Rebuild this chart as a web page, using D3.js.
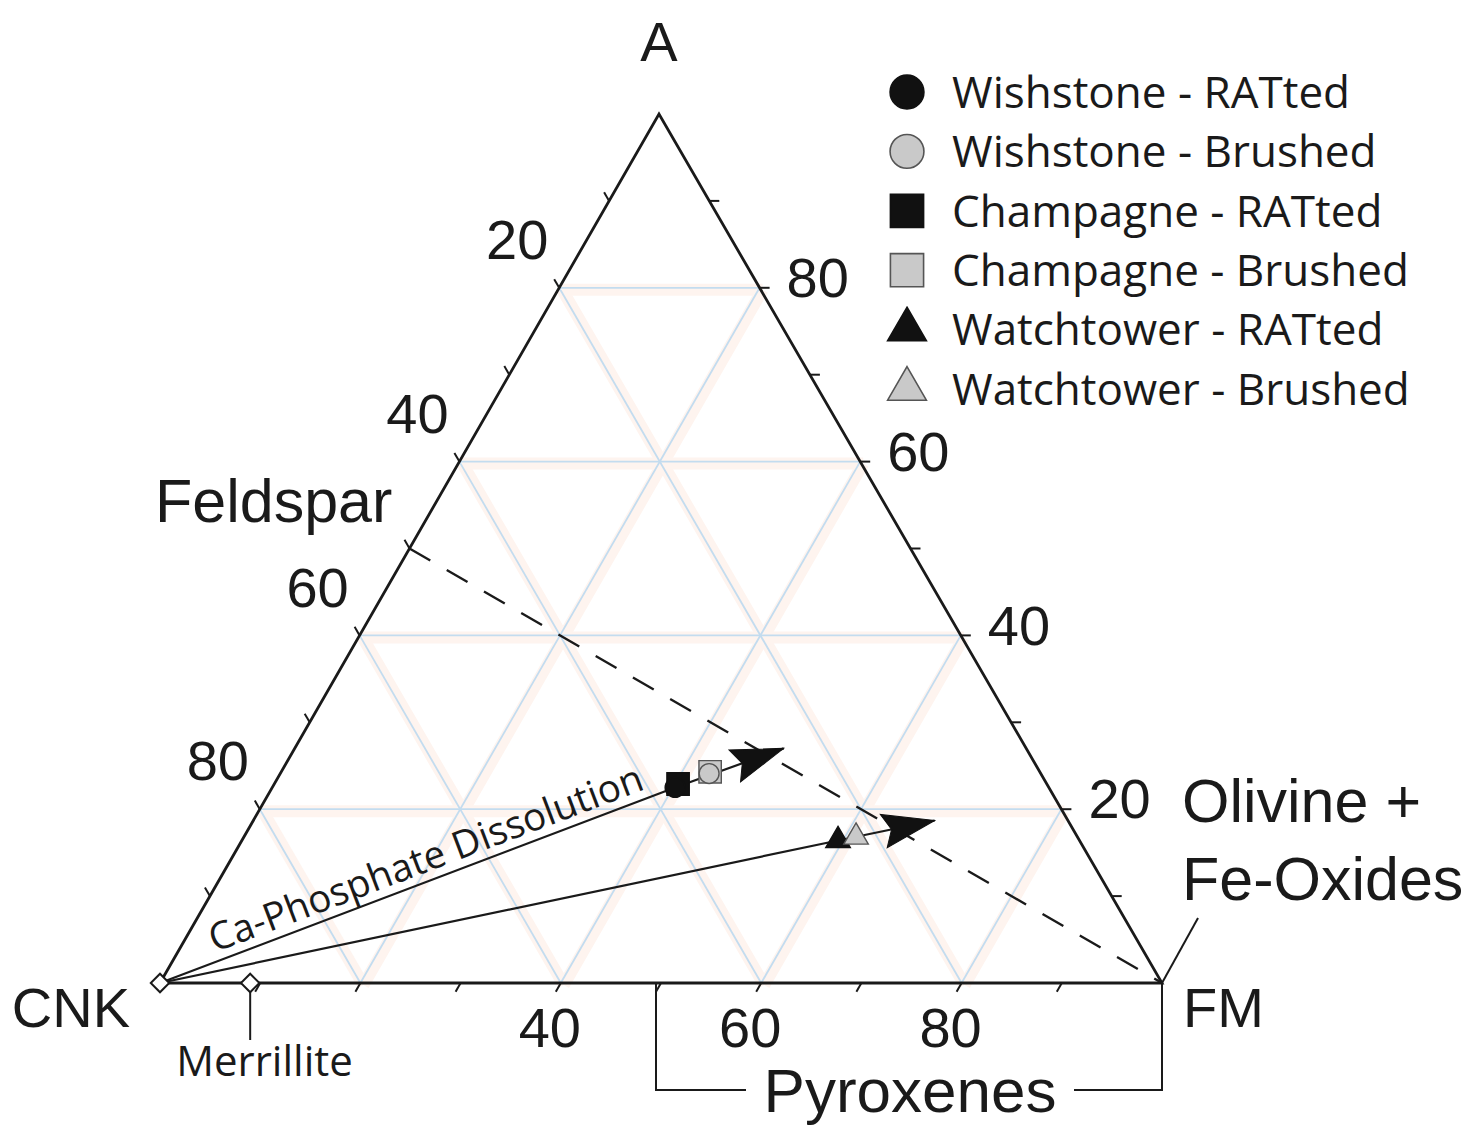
<!DOCTYPE html>
<html>
<head>
<meta charset="utf-8">
<script src="https://cdn.jsdelivr.net/npm/d3@7"></script>
<style>
  html, body { margin: 0; padding: 0; background: #fff; }
  svg { display: block; }
</style>
</head>
<body>
<svg id="chart" width="1472" height="1134"></svg>
<script>
// ---- data ---------------------------------------------------------------
const gridLevels = [20, 40, 60, 80];
const tickLevels = [10, 20, 30, 40, 50, 60, 70, 80, 90];
const leftTickLabels = [20, 40, 60, 80];     // CNK %
const rightTickLabels = [20, 40, 60, 80];    // A %
const bottomTickLabels = [40, 60, 80];       // FM %

const sampleNames = [
  "Wishstone - RATted", "Wishstone - Brushed",
  "Champagne - RATted", "Champagne - Brushed",
  "Watchtower - RATted", "Watchtower - Brushed"
];
const sampleShapes = ["circle", "circle", "square", "square", "triangle", "triangle"];
const sampleFills = ["#111111", "#c9c9c9", "#111111", "#c9c9c9", "#111111", "#c9c9c9"];
// compositions in percent (CNK = 100 - A - FM)
const sampleA  = [22.5, 24.1, 22.9, 24.3, 16.4, 16.8];
const sampleFM = [40.2, 42.8, 40.3, 42.8, 59.5, 61.1];
const drawOrder = [2, 3, 0, 1, 4, 5];

// trends: from the CNK apex through the RATted sample, then towards the arrow tip
const trendRatted = [0, 4];          // index into samples
const trendTipA  = [27.0, 18.7];
const trendTipFM = [48.8, 68.0];

// feldspar (A 50 : CNK 50) to the FM apex
const feldsparA = 50, feldsparFM = 0;
// merrillite on the CNK-FM join
const merrilliteA = 0, merrilliteFM = 9;
// pyroxene range along FM
const pyroxeneRange = [50, 100];

// ---- geometry -----------------------------------------------------------
const CNKx = 160, FMx = 1162, baseY = 983;
const apexX = 659, apexY = 114;

const xBase = d3.scaleLinear().domain([0, 100]).range([CNKx, FMx]);
const xShift = d3.scaleLinear().domain([0, 100]).range([0, apexX - (CNKx + FMx) / 2]);
const yA = d3.scaleLinear().domain([0, 100]).range([baseY, apexY]);

function proj(a, fm) {
  return [xBase(fm + a / 2) + xShift(a), yA(a)];
}

const svg = d3.select("#chart");
const sansA = "'Liberation Sans', Arial, sans-serif";
const sansB = "'Open Sans', 'Noto Sans', sans-serif";
const line = d3.line();

// ---- grid ---------------------------------------------------------------
const gridSegs = [];
gridLevels.forEach(k => {
  gridSegs.push([proj(k, 0), proj(k, 100 - k)]);          // constant A
  gridSegs.push([proj(0, k), proj(100 - k, k)]);          // constant FM
  gridSegs.push([proj(100 - k, 0), proj(0, 100 - k)]);    // constant CNK
});
const grid = svg.append("g");
grid.selectAll("path.halo").data(gridSegs).join("path")
  .attr("class", "halo")
  .attr("d", d => line(d.map(p => [p[0] + 3, p[1] + 2])))
  .attr("stroke", "#fef4ef").attr("stroke-width", 12).attr("fill", "none");
grid.selectAll("path.gl").data(gridSegs).join("path")
  .attr("class", "gl")
  .attr("d", d => line(d))
  .attr("stroke", "#c3dcef").attr("stroke-width", 1.8).attr("fill", "none");

// ---- triangle frame -----------------------------------------------------
svg.append("path")
  .attr("d", line([proj(0, 0), proj(100, 0), proj(0, 100)]) + "Z")
  .attr("fill", "none").attr("stroke", "#1a1a1a").attr("stroke-width", 2.8)
  .attr("stroke-linejoin", "miter");

// ---- ticks --------------------------------------------------------------
const tickLen = 10;
const ticks = svg.append("g").attr("stroke", "#1a1a1a").attr("stroke-width", 2);
tickLevels.forEach(k => {
  const pl = proj(100 - k, 0);    // left edge, CNK = k
  ticks.append("line").attr("x1", pl[0]).attr("y1", pl[1])
    .attr("x2", pl[0] - 0.5 * tickLen).attr("y2", pl[1] - 0.866 * tickLen);
  const pr = proj(k, 100 - k);    // right edge, A = k
  ticks.append("line").attr("x1", pr[0]).attr("y1", pr[1])
    .attr("x2", pr[0] + tickLen).attr("y2", pr[1]);
  const pb = proj(0, k);          // base, FM = k
  ticks.append("line").attr("x1", pb[0]).attr("y1", pb[1])
    .attr("x2", pb[0] - 0.5 * tickLen).attr("y2", pb[1] + 0.866 * tickLen);
});

const tickText = svg.append("g").attr("font-family", sansA).attr("font-size", 56).attr("fill", "#1a1a1a");
leftTickLabels.forEach(k => {
  const p = proj(100 - k, 0);
  tickText.append("text").attr("x", p[0] - 42).attr("y", p[1] - 49)
    .attr("dy", "0.36em").attr("text-anchor", "middle").text(k);
});
rightTickLabels.forEach(k => {
  const p = proj(k, 100 - k);
  tickText.append("text").attr("x", p[0] + 27).attr("y", p[1] - 11)
    .attr("dy", "0.36em").attr("text-anchor", "start").text(k);
});
bottomTickLabels.forEach(k => {
  const p = proj(0, k);
  tickText.append("text").attr("x", p[0] - 11).attr("y", p[1] + 44)
    .attr("dy", "0.36em").attr("text-anchor", "middle").text(k);
});

// ---- vertex and field labels ---------------------------------------------
const lab = svg.append("g").attr("font-family", sansA).attr("fill", "#1a1a1a");
const pA = proj(100, 0), pC = proj(0, 0), pF = proj(0, 100);
lab.append("text").attr("x", pA[0]).attr("y", pA[1] - 53).attr("text-anchor", "middle")
  .attr("font-size", 56).text("A");
lab.append("text").attr("x", pC[0] - 30).attr("y", pC[1] + 44).attr("text-anchor", "end")
  .attr("font-size", 56).text("CNK");
lab.append("text").attr("x", pF[0] + 21).attr("y", pF[1] + 44).attr("text-anchor", "start")
  .attr("font-size", 56).text("FM");
lab.append("text").attr("x", 155).attr("y", 522).attr("font-size", 61).text("Feldspar");
lab.append("text").attr("x", 1182).attr("y", 822).attr("font-size", 61).text("Olivine +");
lab.append("text").attr("x", 1182).attr("y", 900).attr("font-size", 61).text("Fe-Oxides");

// leader from the FM apex to the olivine label
svg.append("line").attr("x1", pF[0]).attr("y1", pF[1]).attr("x2", pF[0] + 36).attr("y2", pF[1] - 65)
  .attr("stroke", "#1a1a1a").attr("stroke-width", 2);

// pyroxene bracket
const pyL = proj(0, pyroxeneRange[0]), pyR = proj(0, pyroxeneRange[1]);
const brY = 1090;
svg.append("path")
  .attr("d", line([[pyL[0] - 5, pyL[1]], [pyL[0] - 5, brY], [746, brY]]) + "M1074," + brY +
             line([[1074, brY], [pyR[0], brY], [pyR[0], pyR[1]]]).replace("M", "L"))
  .attr("fill", "none").attr("stroke", "#1a1a1a").attr("stroke-width", 2);
lab.append("text").attr("x", 910).attr("y", 1112).attr("text-anchor", "middle")
  .attr("font-size", 62).text("Pyroxenes");

// ---- feldspar dashed join --------------------------------------------------
svg.append("path")
  .attr("d", line([proj(feldsparA, feldsparFM), proj(0, 100)]))
  .attr("stroke", "#1a1a1a").attr("stroke-width", 2.4).attr("stroke-dasharray", "24,19")
  .attr("fill", "none");

// ---- trend lines ---------------------------------------------------------
const trends = svg.append("g");
trendRatted.forEach((si, i) => {
  const s = proj(sampleA[si], sampleFM[si]);
  const t = proj(trendTipA[i], trendTipFM[i]);
  trends.append("path").attr("d", line([pC, s, t]))
    .attr("fill", "none").attr("stroke", "#1a1a1a").attr("stroke-width", 2.2);
});

// Ca-phosphate label along the Wishstone trend
{
  const s = proj(sampleA[0], sampleFM[0]);
  const ang = Math.atan2(s[1] - pC[1], s[0] - pC[0]);
  const d = 62, off = 9;
  const x = pC[0] + d * Math.cos(ang) + off * Math.sin(ang);
  const y = pC[1] + d * Math.sin(ang) - off * Math.cos(ang);
  svg.append("text")
    .attr("transform", `translate(${x},${y}) rotate(${ang * 180 / Math.PI})`)
    .attr("font-family", sansB).attr("font-size", 38.5).attr("fill", "#1a1a1a")
    .text("Ca-Phosphate Dissolution");
}

// ---- merrillite -----------------------------------------------------------
const pM = proj(merrilliteA, merrilliteFM);
svg.append("line").attr("x1", pM[0]).attr("y1", pM[1]).attr("x2", pM[0]).attr("y2", pM[1] + 57)
  .attr("stroke", "#1a1a1a").attr("stroke-width", 2);
svg.append("text").attr("x", pM[0] - 74).attr("y", pM[1] + 93)
  .attr("font-family", sansB).attr("font-size", 42).attr("fill", "#1a1a1a").text("Merrillite");

const diamond = d3.symbol().type(d3.symbolSquare).size(170);
[pC, pM].forEach(p => {
  svg.append("path").attr("d", diamond())
    .attr("transform", `translate(${p[0]},${p[1]}) rotate(45)`)
    .attr("fill", "#fff").attr("stroke", "#1a1a1a").attr("stroke-width", 2);
});

// ---- markers -------------------------------------------------------------
function markerPath(shape, scale) {
  if (shape === "circle") return d3.symbol().type(d3.symbolCircle).size(310 * scale)();
  if (shape === "square") return d3.symbol().type(d3.symbolSquare).size(500 * scale)();
  return d3.symbol().type(d3.symbolTriangle).size(260 * scale)();
}
const marks = svg.append("g");
drawOrder.forEach(i => {
  const p = proj(sampleA[i], sampleFM[i]);
  const dark = sampleFills[i] === "#111111";
  marks.append("path").attr("d", markerPath(sampleShapes[i], 1))
    .attr("transform", `translate(${p[0]},${p[1]})`)
    .attr("fill", sampleFills[i]).attr("stroke", dark ? "#111" : "#555").attr("stroke-width", 1.4);
});

// ---- arrow heads ------------------------------------------------------------
trendRatted.forEach((si, i) => {
  const s = proj(sampleA[si], sampleFM[si]);
  const t = proj(trendTipA[i], trendTipFM[i]);
  const ang = Math.atan2(t[1] - s[1], t[0] - s[0]) * 180 / Math.PI;
  svg.append("path")
    .attr("d", "M0,0 L-52,-17 L-44,0 L-52,17 Z")
    .attr("transform", `translate(${t[0]},${t[1]}) rotate(${ang})`)
    .attr("fill", "#111").attr("stroke", "#111").attr("stroke-width", 1);
});

// ---- legend --------------------------------------------------------------
const legend = svg.append("g");
sampleNames.forEach((name, i) => {
  const y = 92 + i * 59.4;
  const dark = sampleFills[i] === "#111111";
  const legendScale = sampleShapes[i] === "circle" ? 2.9 : 2.2;
  legend.append("path").attr("d", markerPath(sampleShapes[i], sampleShapes[i] === "triangle" ? 2.5 : legendScale))
    .attr("transform", `translate(907,${y})`)
    .attr("fill", sampleFills[i]).attr("stroke", dark ? "#111" : "#555").attr("stroke-width", 1.6);
  legend.append("text").attr("x", 952).attr("y", y).attr("dy", "0.36em")
    .attr("font-family", sansB).attr("font-size", 44).attr("fill", "#1a1a1a").text(name);
});
</script>
</body>
</html>
